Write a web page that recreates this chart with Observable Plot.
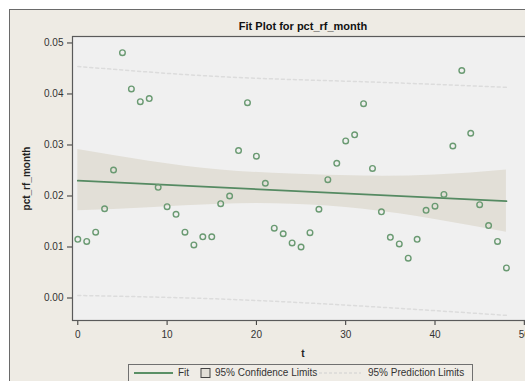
<!DOCTYPE html>
<html><head><meta charset="utf-8">
<script src="https://cdn.jsdelivr.net/npm/d3@7"></script>
<script src="https://cdn.jsdelivr.net/npm/@observablehq/plot@0.6"></script>
<style>
body{margin:0;background:#fff;font-family:"Liberation Sans",Arial,sans-serif;}
#wrap{position:relative;width:525px;height:381px;overflow:hidden;}
#bg{position:absolute;left:9px;top:9px;width:520px;height:380px;background:#eeebe4;border-left:1.5px solid #6a6a6a;border-top:1.5px solid #6a6a6a;}
#chart{position:absolute;left:0;top:0;width:533px;height:381px;}
#chart svg{max-width:none !important;width:533px;height:381px;}
#legend{position:absolute;left:128px;top:364px;width:343px;height:16px;border:1px solid #707070;background:#efece6;font-size:10px;color:#333;}
#legend span{position:absolute;top:2px;white-space:nowrap;}
</style></head>
<body><div id="wrap"><div id="bg"></div><div id="chart"></div>
<div id="legend">
<svg width="343" height="16" style="position:absolute;left:0;top:0">
<line x1="5" x2="44" y1="8" y2="8" stroke="#5a8f66" stroke-width="2"/>
<rect x="72" y="3.5" width="9" height="9" fill="#e2dfd7" stroke="#444" stroke-width="1"/>
<line x1="190" x2="232" y1="8" y2="8" stroke="#d0d0d0" stroke-width="1" stroke-dasharray="3,2"/>
</svg>
<span style="left:49px">Fit</span>
<span style="left:86px">95% Confidence Limits</span>
<span style="left:239px">95% Prediction Limits</span>
</div></div>
<script>
const t = d3.range(0, 49);
const pct = [0.0115,0.0111,0.0129,0.0175,0.0251,0.0481,0.0410,0.0385,0.0391,0.0217,
0.0179,0.0164,0.0129,0.0104,0.0120,0.0120,0.0185,0.0200,0.0289,0.0383,
0.0278,0.0225,0.0137,0.0126,0.0108,0.0100,0.0128,0.0174,0.0232,0.0264,
0.0308,0.0320,0.0381,0.0254,0.0169,0.0119,0.0106,0.0078,0.0115,0.0172,
0.0180,0.0203,0.0298,0.0446,0.0323,0.0183,0.0142,0.0111,0.0059];
const fitT = [0, 48];
const fitV = [0.0230, 0.0190];
const clT = [0, 8, 16, 24, 32, 40, 48];
const clLo = [0.0171, 0.0177, 0.0184, 0.0184, 0.0174, 0.0154, 0.0129];
const clHi = [0.0291, 0.0268, 0.0251, 0.0243, 0.0239, 0.0241, 0.0251];
const plT = [0, 16, 32, 48];
const plLo = [0.0005, -0.0002, -0.0016, -0.0034];
const plHi = [0.0454, 0.0434, 0.0424, 0.0413];
const xTicks = [0, 10, 20, 30, 40, 50];
const yTicks = [0, 0.01, 0.02, 0.03, 0.04, 0.05];
const title = "Fit Plot for pct_rf_month";

const pts = t.map((d, i) => ({t: d, v: pct[i]}));
const fit = fitT.map((d, i) => ({t: d, v: fitV[i]}));
const cl = clT.map((d, i) => ({t: d, lo: clLo[i], hi: clHi[i]}));
const pl = plT.map((d, i) => ({t: d, lo: plLo[i], hi: plHi[i]}));

const chart = Plot.plot({
  width: 533, height: 381,
  marginLeft: 72, marginTop: 36, marginBottom: 61, marginRight: 0,
  style: {background: "transparent", fontSize: "10px", fontFamily: "Liberation Sans, Arial, sans-serif", color: "#333", maxWidth: "none"},
  x: {domain: [-0.594, 51.03], ticks: xTicks, tickFormat: "d", tickSize: 5, tickPadding: 5, label: "t", labelArrow: false, labelAnchor: "center", labelOffset: 36},
  y: {domain: [-0.00441, 0.05127], ticks: yTicks, tickFormat: ".2f", tickSize: 5, tickPadding: 4, label: "pct_rf_month", labelArrow: false, labelAnchor: "center", labelOffset: 50},
  marks: [
    Plot.frame({fill: "#f0f0f0", stroke: null}),
    Plot.areaY(cl, {x: "t", y1: "lo", y2: "hi", fill: "#e2dfd7", curve: "natural"}),
    Plot.line(pl, {x: "t", y: "hi", stroke: "#dcdcdc", strokeDasharray: "3,3", curve: "natural"}),
    Plot.line(pl, {x: "t", y: "lo", stroke: "#dcdcdc", strokeDasharray: "3,3", curve: "natural"}),
    Plot.line(fit, {x: "t", y: "v", stroke: "#558a62", strokeWidth: 1.8}),
    Plot.dot(pts, {x: "t", y: "v", r: 2.8, stroke: "#6a9a72", strokeWidth: 1.4, fill: "none"}),
    Plot.frame({stroke: "#5a5a5a", strokeWidth: 1.2}),
    Plot.text([title], {frameAnchor: "top", dy: -14, fontWeight: "bold", fontSize: 11, fill: "#111"})
  ]
});
document.getElementById("chart").appendChild(chart);
d3.select(chart).selectAll("text").each(function(){
  const s = this.textContent;
  if (/[→↑]/.test(s)) {
    const clean = s.replace(/[\s]*[→↑←↓][\s]*/g, "").trim();
    d3.select(this).selectAll("tspan").remove();
    this.textContent = clean;
  }
}).filter(function(){ const s = this.textContent.trim(); return s === "t" || s === "pct_rf_month"; }).attr("font-weight", "bold").attr("fill", "#222");
</script></body></html>
